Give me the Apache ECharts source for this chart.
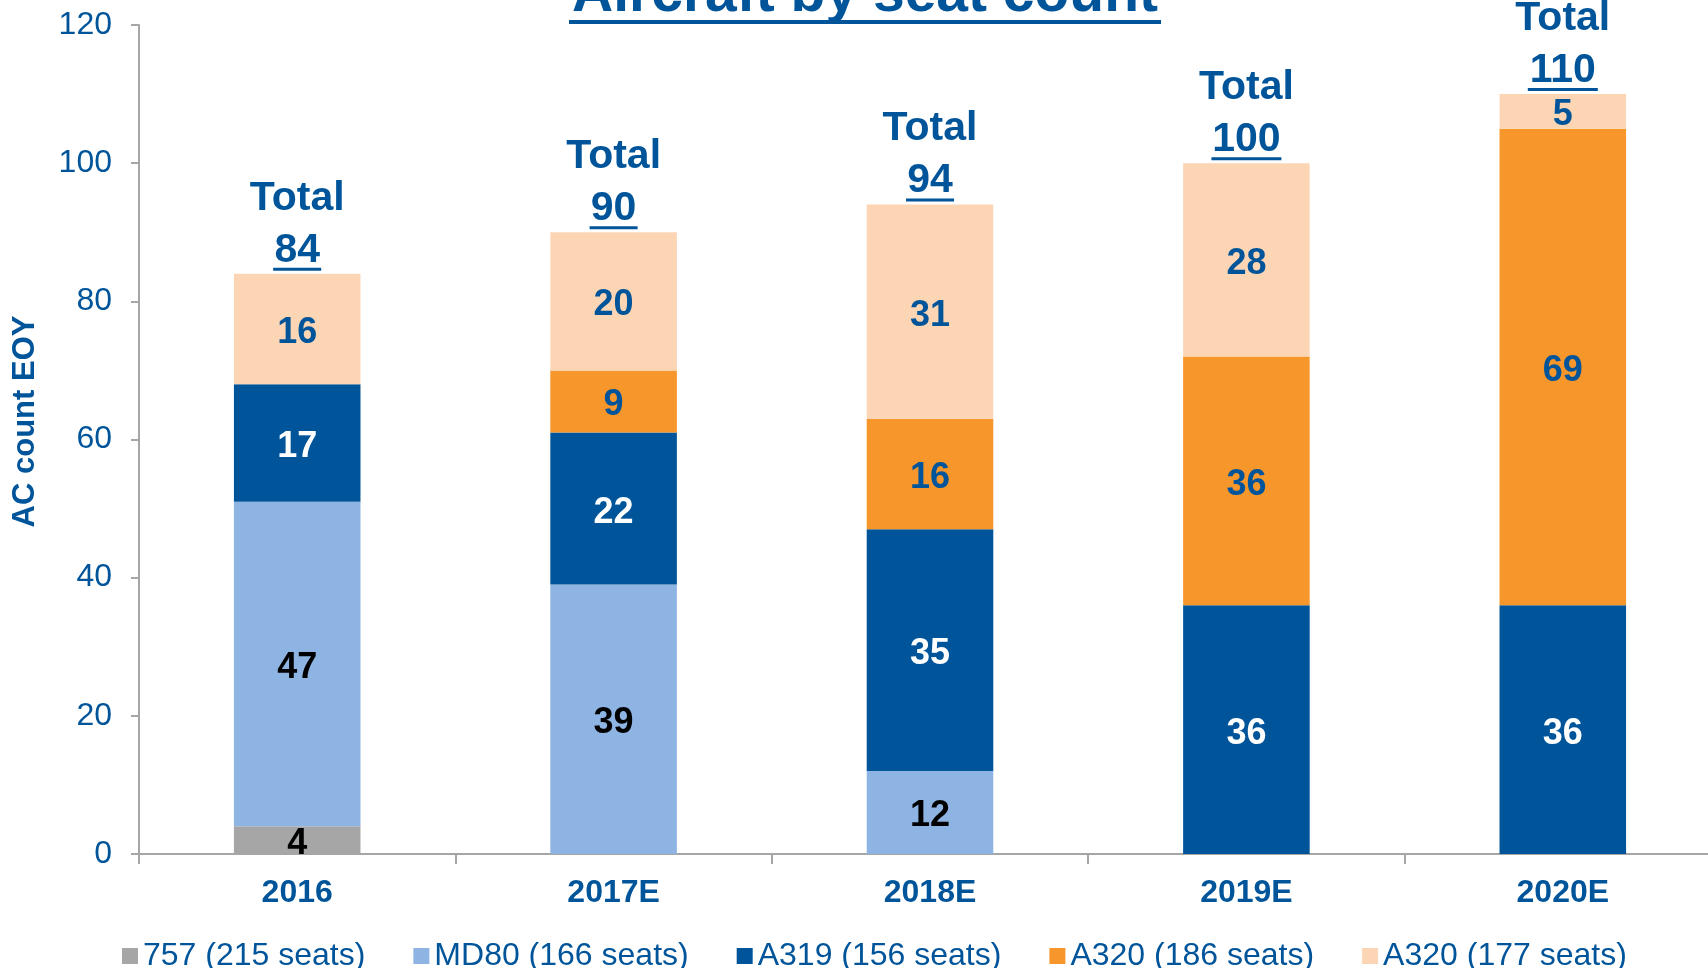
<!DOCTYPE html>
<html>
<head>
<meta charset="utf-8">
<script src="https://cdn.jsdelivr.net/npm/echarts@6/dist/echarts.min.js"></script>
<style>
html,body{margin:0;padding:0;background:#fff;}
#chart{width:1708px;height:968px;}
</style>
</head>
<body>
<div id="chart"></div>
<script>
const categories = ['2016', '2017E', '2018E', '2019E', '2020E'];
const s757 = [4, 0, 0, 0, 0];
const sMD80 = [47, 39, 12, 0, 0];
const sA319 = [17, 22, 35, 36, 36];
const sA320_186 = [0, 9, 16, 36, 69];
const sA320_177 = [16, 20, 31, 28, 5];
const seriesNames = ['757 (215 seats)', 'MD80 (166 seats)', 'A319 (156 seats)', 'A320 (186 seats)', 'A320 (177 seats)'];
const yTicks = { min: 0, max: 120, interval: 20 };
const titleText = 'Aircraft by seat count';
const yName = 'AC count EOY';

const BLUE = '#00559A';
const FONT = '"Liberation Sans", Arial, sans-serif';
const colors = ['#A6A6A6', '#8EB4E3', '#00559A', '#F7962B', '#FCD5B4'];
const labelColors = ['#000000', '#000000', '#FFFFFF', BLUE, BLUE];
const dataSets = [s757, sMD80, sA319, sA320_186, sA320_177];
const totals = categories.map((c, i) => dataSets.reduce((a, d) => a + d[i], 0));

const barSeries = dataSets.map((d, k) => ({
  name: seriesNames[k],
  type: 'bar',
  stack: 'ac',
  barWidth: '40%',
  data: d,
  itemStyle: { color: colors[k] },
  label: {
    show: true,
    position: 'inside',
    offset: [0, 4],
    fontFamily: FONT,
    fontSize: 36,
    fontWeight: 'bold',
    color: labelColors[k],
    formatter: p => (p.value ? String(p.value) : '')
  },
  emphasis: { disabled: true }
}));

const totalSeries = {
  name: 'total',
  type: 'line',
  data: totals,
  symbol: 'circle',
  symbolSize: 2,
  showSymbol: true,
  itemStyle: { color: 'rgba(0,0,0,0)' },
  lineStyle: { opacity: 0 },
  silent: true,
  z: 10,
  label: {
    show: true,
    position: 'top',
    distance: 2,
    formatter: p => {
      const s = String(p.value);
      return '{t|Total}\n{n|' + s + '}\n{u' + s.length + '|}';
    },
    rich: {
      t: { fontFamily: FONT, fontSize: 41, fontWeight: 'bold', color: BLUE, lineHeight: 69, align: 'center' },
      n: { fontFamily: FONT, fontSize: 41, fontWeight: 'bold', color: BLUE, lineHeight: 35, align: 'center' },
      u2: { width: 48, height: 3, lineHeight: 3, backgroundColor: BLUE, align: 'center' },
      u3: { width: 70, height: 3, lineHeight: 3, backgroundColor: BLUE, align: 'center' }
    }
  },
  emphasis: { disabled: true }
};

const chart = echarts.init(document.getElementById('chart'));
chart.setOption({
  animation: false,
  backgroundColor: '#FFFFFF',
  title: {
    text: titleText,
    left: 865,
    textAlign: 'center',
    top: -33,
    padding: 0,
    textStyle: { fontFamily: FONT, fontSize: 57, fontWeight: 'bold', color: BLUE }
  },
  graphic: [{
    type: 'rect',
    shape: { x: 569, y: 20, width: 592, height: 4 },
    style: { fill: BLUE }
  }],
  legend: {
    data: seriesNames,
    left: 117,
    top: 935,
    icon: 'rect',
    itemWidth: 16,
    itemHeight: 16,
    itemGap: 48,
    textStyle: { fontFamily: FONT, fontSize: 32, color: BLUE }
  },
  grid: { left: 139, width: 1582, top: 25, bottom: 114, containLabel: false, outerBoundsMode: 'none' },
  xAxis: {
    type: 'category',
    data: categories,
    axisLine: { lineStyle: { color: '#A6A6A6', width: 2 } },
    axisTick: { show: true, length: 10, lineStyle: { color: '#A6A6A6', width: 2 } },
    axisLabel: { margin: 23, fontFamily: FONT, fontSize: 32, fontWeight: 'bold', color: BLUE }
  },
  yAxis: {
    type: 'value',
    min: yTicks.min,
    max: yTicks.max,
    interval: yTicks.interval,
    name: yName,
    nameLocation: 'middle',
    nameRotate: 90,
    nameGap: 98,
    nameTextStyle: { fontFamily: FONT, fontSize: 31, fontWeight: 'bold', color: BLUE, padding: [0, 0, 0, 36] },
    splitLine: { show: false },
    axisLine: { show: true, lineStyle: { color: '#A6A6A6', width: 2 } },
    axisTick: { show: true, length: 8, lineStyle: { color: '#A6A6A6', width: 2 } },
    axisLabel: { margin: 27, fontFamily: FONT, fontSize: 32, color: BLUE }
  },
  series: [...barSeries, totalSeries]
});
</script>
</body>
</html>
